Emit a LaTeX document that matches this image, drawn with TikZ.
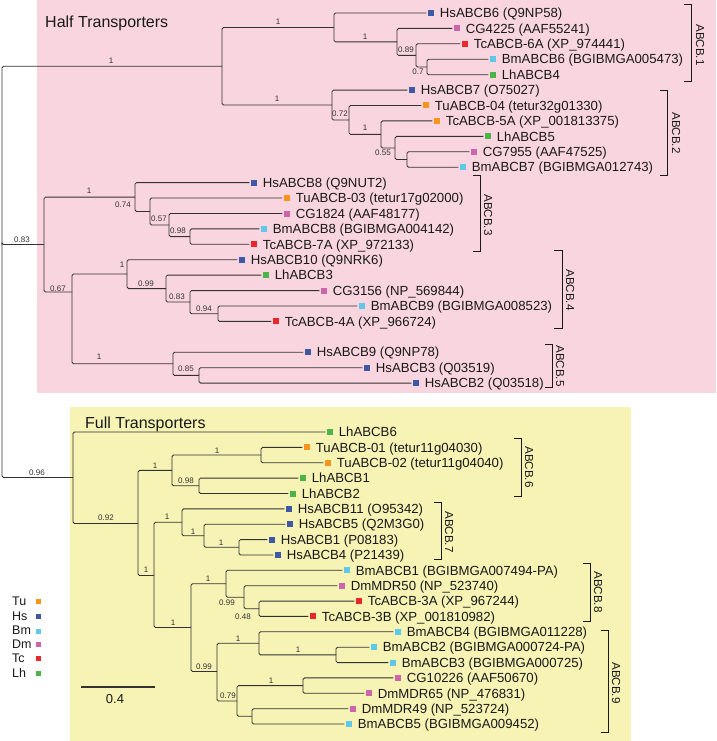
\documentclass[tikz,border=0pt]{standalone}
\usepackage{fontspec}
\setmainfont{Liberation Sans}
\definecolor{cTu}{RGB}{247,148,29}
\definecolor{cHs}{RGB}{63,88,166}
\definecolor{cBm}{RGB}{96,200,232}
\definecolor{cDm}{RGB}{204,102,170}
\definecolor{cTc}{RGB}{232,40,40}
\definecolor{cLh}{RGB}{76,180,72}
\definecolor{pinkbg}{RGB}{249,214,223}
\definecolor{yellowbg}{RGB}{246,243,181}
\definecolor{linec}{RGB}{50,50,50}
\definecolor{textc}{RGB}{25,25,25}
\newcommand\myleaf[5]{\node[sq,fill=#4] (#1) at (#2,#3) {};\node[lbl] (#1t) at ([xshift=5.5pt]#1.east) {#5};}
\newcommand\myedge[2]{\draw[br] (#1) |- (#2);}
\newcommand\myedgel[2]{\draw[br,shorten >=1.5pt] (#1) |- (#2.west);}
\newcommand\mybs[3]{\node[bs] at (#1,#2) {#3};}
\newcommand\mybrk[8]{\coordinate (#8a) at (#1,#3);\coordinate (#8b) at (#2,#3);\coordinate (#8c) at (#2,#4);\coordinate (#8d) at (#1,#4);
\draw[brk] (#8a) -- (#8b) -- (#8c) -- (#8d);\node[clade] (#8t) at (#5,#6) {#7};}
\begin{document}
\begin{tikzpicture}[x=1pt,y=-1pt,
 br/.style={draw=linec, line width=0.85pt, rounded corners=1.5pt},
 sq/.style={minimum size=6pt, inner sep=0pt, draw=none},
 lbl/.style={anchor=west, inner sep=0pt, text height=9.4pt, text depth=0pt, font=\fontsize{13.2}{14}\selectfont, text=textc},
 bs/.style={inner sep=0pt, font=\fontsize{8}{9}\selectfont, text=linec},
 brk/.style={draw=textc, line width=1pt},
 clade/.style={rotate=-90, inner sep=0pt, font=\fontsize{11.6}{13}\selectfont, text=textc},
 ttl/.style={anchor=west, inner sep=0pt, text height=11.5pt, text depth=0pt, font=\fontsize{16}{18}\selectfont, text=textc},
 leg/.style={anchor=west, inner sep=0pt, text height=9pt, text depth=0pt, font=\fontsize{12.5}{14}\selectfont, text=textc},
 lsq/.style={minimum size=5pt, inner sep=0pt, draw=none}
]
\useasboundingbox (0,0) rectangle (716,741);
\fill[pinkbg] (37,0) rectangle (716,393);
\fill[yellowbg] (70,407) rectangle (631,741);
\node[ttl] (tHalf) at (45,22) {Half Transporters};
\node[ttl] (tFull) at (85,423) {Full Transporters};

% internal nodes
\coordinate (R) at (2,244.5);
\coordinate (A) at (222,66.2);
\coordinate (N1) at (334,27.5);
\coordinate (N1a) at (397,41.9);
\coordinate (N1b) at (416,55.4);
\coordinate (N1c) at (427,67);
\coordinate (N2) at (332,105);
\coordinate (N2a) at (349,120);
\coordinate (N2b) at (381,134.4);
\coordinate (N2c) at (395,148);
\coordinate (N2d) at (407,159.5);
\coordinate (B) at (44,244.5);
\coordinate (N3) at (135,197.1);
\coordinate (N3a) at (150,211.5);
\coordinate (N3b) at (169,225);
\coordinate (N3c) at (190,236.6);
\coordinate (N4) at (72,292);
\coordinate (N4a) at (127,274);
\coordinate (N4b) at (166,288.6);
\coordinate (N4c) at (190,302);
\coordinate (N4d) at (218,313.7);
\coordinate (N5) at (173,363.8);
\coordinate (N5a) at (199,375.4);
\coordinate (F) at (73,477.5);
\coordinate (F1) at (138,523.5);
\coordinate (F2) at (172,470.4);
\coordinate (F2a) at (261,455);
\coordinate (F2b) at (199,485.8);
\coordinate (F3) at (154,575.5);
\coordinate (F4) at (182,522.3);
\coordinate (F4a) at (204,535.8);
\coordinate (F4b) at (239,547.3);
\coordinate (F5) at (191,627.5);
\coordinate (F6) at (226,583.8);
\coordinate (F6a) at (244,597.2);
\coordinate (F6b) at (259,608.8);
\coordinate (F7) at (217,671.5);
\coordinate (F8) at (259,643.3);
\coordinate (F8a) at (336,654.9);
\coordinate (F9) at (237,701);
\coordinate (F9a) at (303,685.6);
\coordinate (F9b) at (252,716.3);

% leaves (half)
\myleaf{l0}{431}{13.0}{cHs}{HsABCB6 (Q9NP58)}
\myleaf{l1}{457}{28.4}{cDm}{CG4225 (AAF55241)}
\myleaf{l2}{465}{43.8}{cTc}{TcABCB-6A (XP\_974441)}
\myleaf{l3}{493}{59.3}{cBm}{BmABCB6 (BGIBMGA005473)}
\myleaf{l4}{493}{74.7}{cLh}{LhABCB4}
\myleaf{l5}{412}{90.1}{cHs}{HsABCB7 (O75027)}
\myleaf{l6}{426}{105.5}{cTu}{TuABCB-04 (tetur32g01330)}
\myleaf{l7}{437}{120.9}{cTu}{TcABCB-5A (XP\_001813375)}
\myleaf{l8}{488}{136.4}{cLh}{LhABCB5}
\myleaf{l9}{474}{151.8}{cDm}{CG7955 (AAF47525)}
\myleaf{l10}{463}{167.2}{cBm}{BmABCB7 (BGIBMGA012743)}
\myleaf{l11}{254}{182.6}{cHs}{HsABCB8 (Q9NUT2)}
\myleaf{l12}{287}{198.0}{cTu}{TuABCB-03 (tetur17g02000)}
\myleaf{l13}{287}{213.5}{cDm}{CG1824 (AAF48177)}
\myleaf{l14}{264}{228.9}{cBm}{BmABCB8 (BGIBMGA004142)}
\myleaf{l15}{254}{244.3}{cTc}{TcABCB-7A (XP\_972133)}
\myleaf{l16}{242}{259.7}{cHs}{HsABCB10 (Q9NRK6)}
\myleaf{l17}{266}{275.1}{cLh}{LhABCB3}
\myleaf{l18}{324}{290.6}{cDm}{CG3156 (NP\_569844)}
\myleaf{l19}{362}{306.0}{cBm}{BmABCB9 (BGIBMGA008523)}
\myleaf{l20}{276}{321.4}{cTc}{TcABCB-4A (XP\_966724)}
\myleaf{l22}{308}{352.2}{cHs}{HsABCB9 (Q9NP78)}
\myleaf{l23}{367}{367.7}{cHs}{HsABCB3 (Q03519)}
\myleaf{l24}{416}{383.1}{cHs}{HsABCB2 (Q03518)}
% leaves (full)
\myleaf{m0}{330}{432.0}{cLh}{LhABCB6}
\myleaf{m1}{307}{447.4}{cTu}{TuABCB-01 (tetur11g04030)}
\myleaf{m2}{328}{462.7}{cTu}{TuABCB-02 (tetur11g04040)}
\myleaf{m3}{303}{478.1}{cLh}{LhABCB1}
\myleaf{m4}{293}{493.5}{cLh}{LhABCB2}
\myleaf{m5}{289}{508.9}{cHs}{HsABCB11 (O95342)}
\myleaf{m6}{290}{524.2}{cHs}{HsABCB5 (Q2M3G0)}
\myleaf{m7}{272}{539.6}{cHs}{HsABCB1 (P08183)}
\myleaf{m8}{278}{555.0}{cHs}{HsABCB4 (P21439)}
\myleaf{m9}{347}{570.3}{cBm}{BmABCB1 (BGIBMGA007494-PA)}
\myleaf{m10}{342}{585.7}{cDm}{DmMDR50 (NP\_523740)}
\myleaf{m11}{359}{601.1}{cTc}{TcABCB-3A (XP\_967244)}
\myleaf{m12}{313}{616.4}{cTc}{TcABCB-3B (XP\_001810982)}
\myleaf{m13}{398}{631.8}{cBm}{BmABCB4 (BGIBMGA011228)}
\myleaf{m14}{374}{647.2}{cBm}{BmABCB2 (BGIBMGA000724-PA)}
\myleaf{m15}{393}{662.6}{cBm}{BmABCB3 (BGIBMGA000725)}
\myleaf{m16}{398}{677.9}{cDm}{CG10226 (AAF50670)}
\myleaf{m17}{369}{693.3}{cDm}{DmMDR65 (NP\_476831)}
\myleaf{m18}{353}{708.7}{cDm}{DmMDR49 (NP\_523724)}
\myleaf{m19}{349}{724.0}{cBm}{BmABCB5 (BGIBMGA009452)}

% edges
\myedge{R}{A}\myedge{R}{B}\myedge{R}{F}
\myedge{A}{N1}\myedge{A}{N2}
\myedgel{N1}{l0}\myedge{N1}{N1a}
\myedgel{N1a}{l1}\myedge{N1a}{N1b}
\myedgel{N1b}{l2}\myedge{N1b}{N1c}
\myedgel{N1c}{l3}\myedgel{N1c}{l4}
\myedgel{N2}{l5}\myedge{N2}{N2a}
\myedgel{N2a}{l6}\myedge{N2a}{N2b}
\myedgel{N2b}{l7}\myedge{N2b}{N2c}
\myedgel{N2c}{l8}\myedge{N2c}{N2d}
\myedgel{N2d}{l9}\myedgel{N2d}{l10}
\myedge{B}{N3}\myedge{B}{N4}
\myedgel{N3}{l11}\myedge{N3}{N3a}
\myedgel{N3a}{l12}\myedge{N3a}{N3b}
\myedgel{N3b}{l13}\myedge{N3b}{N3c}
\myedgel{N3c}{l14}\myedgel{N3c}{l15}
\myedge{N4}{N4a}\myedge{N4}{N5}
\myedgel{N4a}{l16}\myedge{N4a}{N4b}
\myedgel{N4b}{l17}\myedge{N4b}{N4c}
\myedgel{N4c}{l18}\myedge{N4c}{N4d}
\myedgel{N4d}{l19}\myedgel{N4d}{l20}
\myedgel{N5}{l22}\myedge{N5}{N5a}
\myedgel{N5a}{l23}\myedgel{N5a}{l24}
\myedgel{F}{m0}\myedge{F}{F1}
\myedge{F1}{F2}\myedge{F1}{F3}
\myedge{F2}{F2a}\myedge{F2}{F2b}
\myedgel{F2a}{m1}\myedgel{F2a}{m2}
\myedgel{F2b}{m3}\myedgel{F2b}{m4}
\myedge{F3}{F4}\myedge{F3}{F5}
\myedgel{F4}{m5}\myedge{F4}{F4a}
\myedgel{F4a}{m6}\myedge{F4a}{F4b}
\myedgel{F4b}{m7}\myedgel{F4b}{m8}
\myedge{F5}{F6}\myedge{F5}{F7}
\myedgel{F6}{m9}\myedge{F6}{F6a}
\myedgel{F6a}{m10}\myedge{F6a}{F6b}
\myedgel{F6b}{m11}\myedgel{F6b}{m12}
\myedge{F7}{F8}\myedge{F7}{F9}
\myedgel{F8}{m13}\myedge{F8}{F8a}
\myedgel{F8a}{m14}\myedgel{F8a}{m15}
\myedge{F9}{F9a}\myedge{F9}{F9b}
\myedgel{F9a}{m16}\myedgel{F9a}{m17}
\myedgel{F9b}{m18}\myedgel{F9b}{m19}

% support values
\mybs{111}{61}{1}\mybs{278}{22}{1}\mybs{277}{99}{1}\mybs{340}{114}{0.72}
\mybs{365}{37}{1}\mybs{406}{50}{0.89}\mybs{418}{72}{0.7}\mybs{365}{128}{1}\mybs{383}{153}{0.55}
\mybs{22}{240}{0.83}\mybs{89}{191}{1}\mybs{123}{205}{0.74}\mybs{159}{219}{0.57}\mybs{178}{231}{0.98}
\mybs{58}{289}{0.67}\mybs{122}{265}{1}\mybs{146}{284}{0.99}\mybs{177}{297}{0.83}\mybs{204}{309}{0.94}
\mybs{99}{357}{1}\mybs{186}{369}{0.85}
\mybs{37}{473}{0.96}\mybs{155}{466}{1}\mybs{217}{451}{1}\mybs{186}{481}{0.98}\mybs{106}{518}{0.92}
\mybs{167}{517}{1}\mybs{193}{532}{1}\mybs{221}{543}{1}\mybs{146}{570}{1}\mybs{208}{579}{1}
\mybs{227}{603}{0.99}\mybs{243}{617}{0.48}\mybs{173}{623}{1}\mybs{238}{639}{1}\mybs{298}{650}{1}
\mybs{204}{667}{0.99}\mybs{271}{681}{1}\mybs{228}{696}{0.79}

% clade brackets
\mybrk{684}{691}{5}{82}{700}{45}{ABCB.1}{cA}
\mybrk{660}{667}{91}{175}{676}{133}{ABCB.2}{cB}
\mybrk{473}{480}{175}{251}{488}{215}{ABCB.3}{cC}
\mybrk{554}{562}{250}{328}{570}{290}{ABCB.4}{cD}
\mybrk{545}{552}{344}{387}{560}{366}{ABCB.5}{cE}
\mybrk{514}{521}{438}{496}{529}{467}{ABCB.6}{cF}
\mybrk{434}{441}{502}{559}{449}{532}{ABCB.7}{cG}
\mybrk{583}{590}{563}{621}{598}{592}{ABCB.8}{cH}
\mybrk{601}{608}{630}{732}{616}{683}{ABCB.9}{cI}

% legend
\node[leg] (lgTu) at (12,601) {Tu}; \node[lsq,fill=cTu] (lgTuS) at (38,601) {};
\node[leg] (lgHs) at (12,615.5) {Hs}; \node[lsq,fill=cHs] (lgHsS) at (38,616.5) {};
\node[leg] (lgBm) at (12,630) {Bm}; \node[lsq,fill=cBm] (lgBmS) at (38,631) {};
\node[leg] (lgDm) at (12,644) {Dm}; \node[lsq,fill=cDm] (lgDmS) at (38,644) {};
\node[leg] (lgTc) at (12,658) {Tc}; \node[lsq,fill=cTc] (lgTcS) at (38,658) {};
\node[leg] (lgLh) at (12,673) {Lh}; \node[lsq,fill=cLh] (lgLhS) at (38,673) {};

% scale bar
\coordinate (sbA) at (81,687);
\coordinate (sbB) at (155,687);
\draw[linec, line width=1.2pt] (sbA) -- (sbB);
\node[inner sep=0pt, font=\fontsize{13}{14}\selectfont, text=textc] (sbL) at (115,699) {0.4};
\end{tikzpicture}
\end{document}
